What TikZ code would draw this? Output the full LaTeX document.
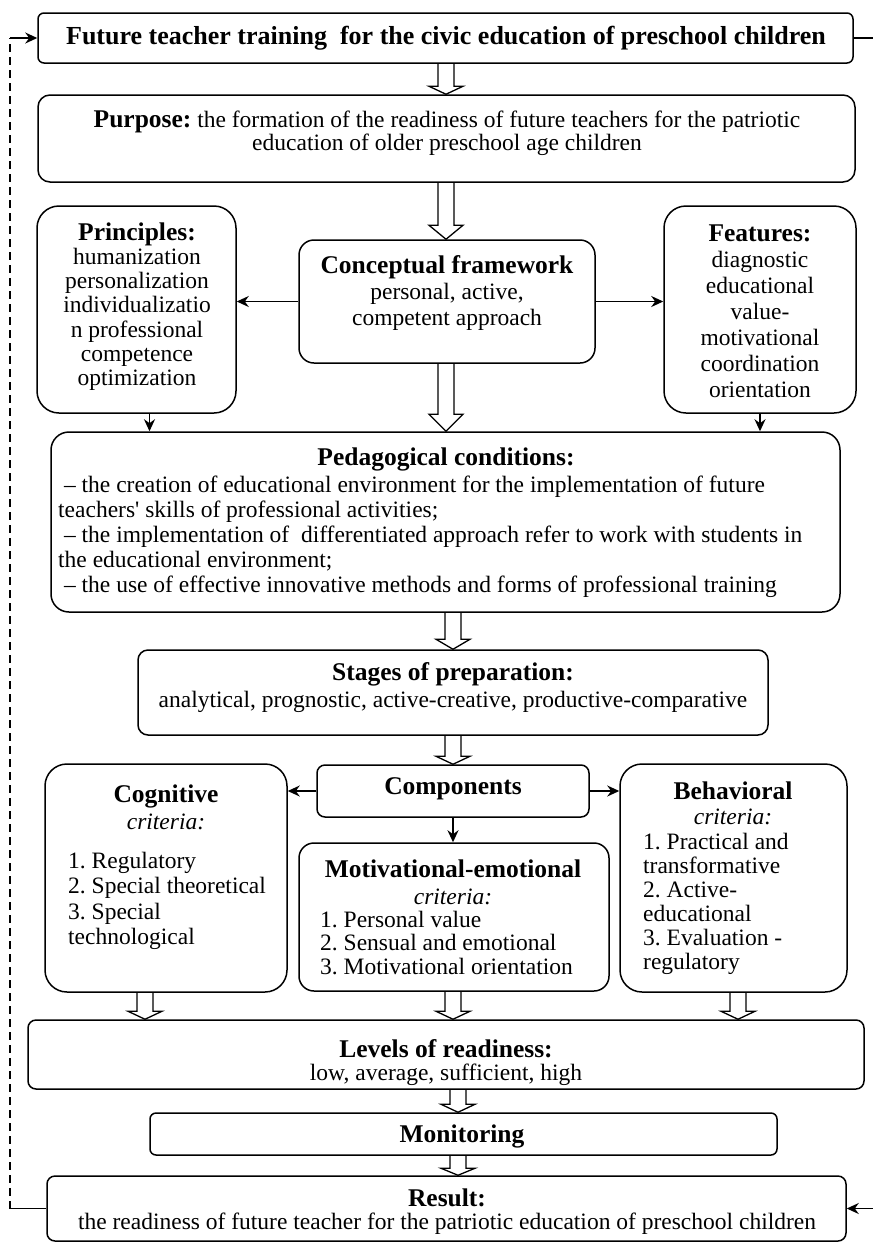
\documentclass[tikz,border=0pt]{standalone}
\usepackage{fontspec}
\setmainfont{Liberation Serif}
\usetikzlibrary{arrows.meta,calc}
\frenchspacing
\tikzset{
  frame/.style={draw, line width=1.5pt, rounded corners=#1, inner sep=0pt},
  frame/.default=10pt,
  txt/.style={inner sep=0pt, align=center, font=\fontsize{23.5}{24.5}\selectfont},
  lst/.style={txt, align=left, anchor=west},
  line/.style={line width=1.6pt},
  conn/.style={line width=1.6pt, -{Stealth[length=12pt,width=11pt]}},
  hollowarr/.style={line width=1.3pt, line join=miter},
}
\newcommand{\hd}[1]{{\fontsize{25.5}{26}\selectfont\bfseries #1}}
% hollow block arrow: x, from node, to node
\newcommand{\hollow}[4][10pt]{%
  \draw[hollowarr] let \p1=(#2,0), \p2=(#3), \p3=(#4) in
    (\x1-8pt,\y2) -- (\x1-8pt,\y3+#1) -- (\x1-17pt,\y3+#1) -- (\x1,\y3)
    -- (\x1+17pt,\y3+#1) -- (\x1+8pt,\y3+#1) -- (\x1+8pt,\y2);}
\begin{document}
\begin{tikzpicture}[x=1pt,y=-1pt]
  \useasboundingbox (0,0) rectangle (873,1243);
  \node[frame=6pt, minimum width=815pt, minimum height=50pt] (title) at (445.5,38) {};
  \node[txt, font=\fontsize{26}{28}\selectfont\bfseries] (titletxt) at (446,38)
  {Future teacher training\ \ for the civic education of preschool children};
  \node[frame=12pt, minimum width=817pt, minimum height=87pt] (purpose) at (446.5,138.5) {};
  \node[txt, font=\fontsize{23.5}{23.5}\selectfont] (purposetxt) at (447,133)
  {\hd{Purpose:} the formation of the readiness of future teachers for the patriotic\\
    education of older preschool age children};
  \node[frame=22pt, minimum width=199pt, minimum height=207pt] (principles) at (136.5,309.5) {};
  \node[txt, font=\fontsize{23.5}{24.2}\selectfont] (principlestxt) at (137,306.5)
  {\hd{Principles:}\\ humanization\\ personalization\\ individualizatio\\
    n professional\\ competence\\ optimization};
  \node[frame=15pt, minimum width=296pt, minimum height=123pt] (concept) at (447,301.5) {};
  \node[txt, font=\fontsize{23.5}{26}\selectfont] (concepttxt) at (447,293)
  {\hd{Conceptual framework}\\ personal, active,\\ competent approach};
  \node[frame=22pt, minimum width=192pt, minimum height=207pt] (features) at (760,309.5) {};
  \node[txt, font=\fontsize{23.5}{26}\selectfont] (featurestxt) at (760,311)
  {\hd{Features:}\\ diagnostic\\ educational\\ value-\\ motivational\\
    coordination\\ orientation};
  \node[frame=18pt, minimum width=789pt, minimum height=180pt] (ped) at (445.5,522) {};
  \node[txt] (pedhd) at (446,459) {\hd{Pedagogical conditions:}};
  \node[lst, font=\fontsize{23.5}{25}\selectfont] (pedlst) at (58,537)
  {\ -- the creation of educational environment for the implementation of future\\
    teachers\textquotesingle{} skills of professional activities;\\
    \ -- the implementation of\ \ differentiated approach refer to work with students in\\
    the educational environment;\\
    \ -- the use of effective innovative methods and forms of professional training};
  \node[frame=10pt, minimum width=630pt, minimum height=85pt] (stages) at (453,692.5) {};
  \node[txt, font=\fontsize{23.5}{27}\selectfont] (stagestxt) at (453,688)
  {\hd{Stages of preparation:}\\
    analytical, prognostic, active-creative, productive-comparative};
  \node[frame=8pt, minimum width=272pt, minimum height=52pt] (components) at (453,791) {};
  \node[txt] (componentstxt) at (453,788.5) {\hd{Components}};
  \node[frame=22pt, minimum width=242pt, minimum height=228pt] (cognitive) at (166,878) {};
  \node[txt, font=\fontsize{23.5}{27}\selectfont] (coghd) at (166,807.5)
  {\hd{Cognitive}\\ \textit{criteria:}};
  \node[lst, font=\fontsize{23.5}{25.3}\selectfont] (coglst) at (68,901)
  {1. Regulatory\\ 2. Special theoretical\\ 3. Special\\ technological};
  \node[frame=15pt, minimum width=310pt, minimum height=148pt] (motivational) at (454,917) {};
  \node[txt, font=\fontsize{23.5}{27}\selectfont] (mothd) at (453,882.5)
  {\hd{Motivational-emotional}\\ \textit{criteria:}};
  \node[lst, font=\fontsize{23.5}{23.5}\selectfont] (motlst) at (320,943)
  {1. Personal value\\ 2. Sensual and emotional\\ 3. Motivational orientation};
  \node[frame=22pt, minimum width=227pt, minimum height=228pt] (behavioral) at (733.5,878) {};
  \node[txt, font=\fontsize{23.5}{25}\selectfont] (behhd) at (733,803)
  {\hd{Behavioral}\\ \textit{criteria:}};
  \node[lst, font=\fontsize{23.5}{24}\selectfont] (behlst) at (643,904)
  {1. Practical and\\ transformative\\ 2. Active-\\ educational\\
    3. Evaluation -\\ regulatory};
  \node[frame=8pt, minimum width=836pt, minimum height=69pt] (levels) at (446,1054.5) {};
  \node[txt, font=\fontsize{23.5}{23}\selectfont] (levelstxt) at (446,1063)
  {\hd{Levels of readiness:}\\ low, average, sufficient, high};
  \node[frame=6pt, minimum width=627pt, minimum height=42pt] (monitoring) at (463.5,1134) {};
  \node[txt] (monitoringtxt) at (462,1136) {\hd{Monitoring}};
  \node[frame=8pt, minimum width=799pt, minimum height=65pt] (result) at (446.5,1208.5) {};
  \node[txt, font=\fontsize{23.5}{23}\selectfont] (resulttxt) at (447,1212)
  {\hd{Result:}\\
    the readiness of future teacher for the patriotic education of preschool children};
  \hollow[8pt]{446}{title.south}{purpose.north}
  \hollow[14pt]{446}{purpose.south}{concept.north}
  \hollow[17pt]{446}{concept.south}{ped.north}
  \hollow[10pt]{453}{ped.south}{stages.north}
  \hollow[8pt]{453}{stages.south}{components.north}
  \hollow[8pt]{145}{cognitive.south}{levels.north}
  \hollow[8pt]{453}{motivational.south}{levels.north}
  \hollow[8pt]{738}{behavioral.south}{levels.north}
  \hollow[8pt]{458}{levels.south}{monitoring.north}
  \hollow[7pt]{458}{monitoring.south}{result.north}
  \draw[conn] (concept.west) -- (principles.east |- concept.west);
  \draw[conn] (concept.east) -- (features.west |- concept.east);
  \path (principles.south) ++(13,0) coordinate (pr1);
  \draw[conn] (pr1) -- (pr1 |- ped.north);
  \draw[conn] (features.south) -- (features.south |- ped.north);
  \draw[conn] (components.west) -- (cognitive.east |- components.west);
  \draw[conn] (components.east) -- (behavioral.west |- components.east);
  \draw[conn] (components.south) -- (components.south |- motivational.north);
  % feedback
  \path (result.west) ++(-36,0) coordinate (fbbot);
  \path (title.west) ++(-27,0) coordinate (fbtop);
  \draw[line] (result.west) -- (fbbot);
  \draw[line, dash pattern=on 8pt off 5pt] (fbbot) -- (fbtop);
  \draw[conn] (fbtop) -- (title.west);
  \path (title.east) ++(20,0) coordinate (rtop);
  \path (result.east) ++(27,0) coordinate (rbot);
  \draw[line] (title.east) -- (rtop);
  \draw[conn] (rbot) -- (result.east);
\end{tikzpicture}
\end{document}
